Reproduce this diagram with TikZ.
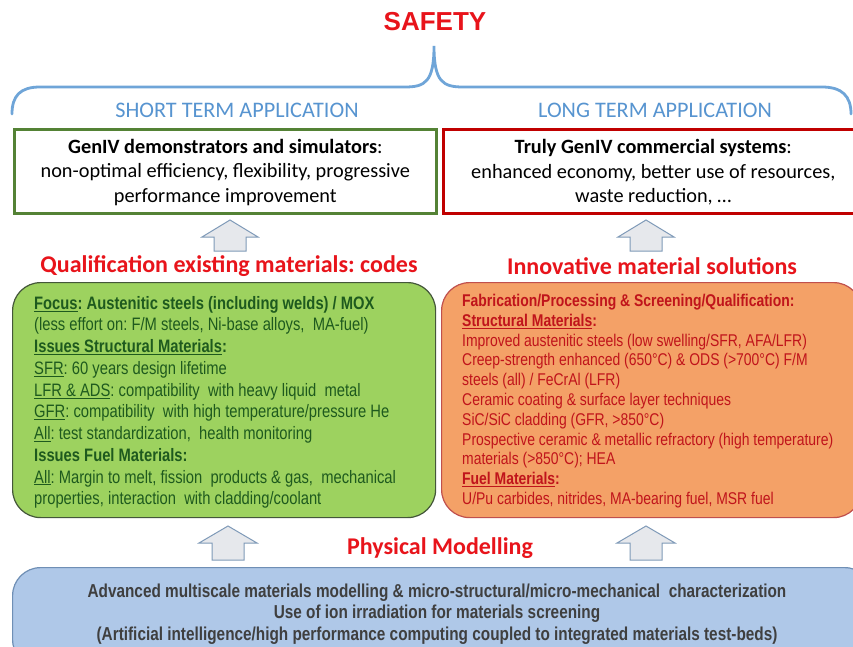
\documentclass[tikz,border=0pt]{standalone}
\usepackage{fontspec}
\setmainfont{Carlito}
\newfontfamily\narrowf[FakeStretch=0.82]{Liberation Sans}
\newfontfamily\arialf{Liberation Sans}
\usetikzlibrary{calc}
\definecolor{safred}{HTML}{E8141B}
\definecolor{braceblue}{HTML}{6FA5D8}
\definecolor{titleblue}{HTML}{5794D0}
\definecolor{gborder}{HTML}{548235}
\definecolor{rborder}{HTML}{C00000}
\definecolor{arrfill}{HTML}{E6E8EC}
\definecolor{arredge}{HTML}{7F9AB8}
\definecolor{gfill}{HTML}{9DD25F}
\definecolor{gedge}{HTML}{44573A}
\definecolor{gtext}{HTML}{1E5A1E}
\definecolor{ofill}{HTML}{F4A167}
\definecolor{oedge}{HTML}{C0504D}
\definecolor{otext}{HTML}{C0141B}
\definecolor{bfill}{HTML}{AFC8E8}
\definecolor{bedge}{HTML}{6F8FB5}
\definecolor{btext}{HTML}{3F3F3F}
\frenchspacing
\begin{document}
\begin{tikzpicture}[x=1pt,y=-1pt,
  topbox/.style={draw=#1,line width=2.6pt,minimum width=420pt,minimum height=84pt,inner sep=0pt,anchor=north west},
  heading/.style={text=safred,font=\fontsize{24}{28}\selectfont\bfseries,inner sep=0pt},
  termtitle/.style={text=titleblue,font=\fontsize{22.2}{26}\selectfont,inner sep=0pt},
  toptext/.style={align=center,font=\fontsize{20.3}{24.5}\selectfont,inner sep=0pt},
  blockarrow/.style={fill=arrfill,draw=arredge,line width=1pt,line join=miter},
  bigbox/.style={rounded corners=28pt,line width=1.2pt,anchor=north west,inner sep=0pt},
]
\useasboundingbox (0,0) rectangle (853,647);
\fill[white] (0,0) rectangle (853,647);

% SAFETY and brace
\node[text=safred,font=\arialf\bfseries\fontsize{26}{30}\selectfont,inner sep=0pt] (safety) at (435,22) {SAFETY};
\coordinate (tip) at (434,46);
\draw[braceblue,line width=2.8pt,line cap=round]
  (12,114) .. controls (12,96) and (20,87) .. (40,87) -- (405,87)
  .. controls (425,87) and (434,82) .. (tip)
  .. controls (434,82) and (443,87) .. (463,87) -- (822,87)
  .. controls (842,87) and (851,96) .. (851,114);

\node[termtitle] (short) at (237,110) {SHORT TERM APPLICATION};
\node[termtitle] (long) at (655,110) {LONG TERM APPLICATION};

% top boxes
\node[topbox=gborder,minimum width=422pt] (demo) at (13,128) {};
\node[topbox=rborder,minimum width=420pt] (truly) at (442,128) {};
\node[toptext] (demotxt) at ($(demo.center)+(0,1)$) {\textbf{GenIV demonstrators and simulators}:\\non-optimal efficiency, flexibility, progressive\\performance improvement};
\node[toptext] (trulytxt) at ($(truly.center)+(0,1)$) {\textbf{Truly GenIV commercial systems}:\\enhanced economy, better use of resources,\\waste reduction, \dots};

% headings
\node[heading] (qual) at (229,266) {Qualification existing materials: codes};
\node[heading] (innov) at (652,266) {Innovative material solutions};

% block arrows up to the top boxes
\foreach \cx/\nm in {230/a1,646/a2}{
  \draw[blockarrow] (\cx-16,251) -- (\cx-16,237) -- (\cx-28,237) -- (\cx,220) -- (\cx+28,237) -- (\cx+16,237) -- (\cx+16,251) -- cycle;
}

% green box
\node[bigbox,fill=gfill,draw=gedge,minimum width=423pt,minimum height=235pt] (green) at (12,282) {};
\node[anchor=north west,inner sep=0pt,text=gtext,align=left,
  font=\narrowf\fontsize{18}{21.75}\selectfont] (greentxt) at ($(green.north west)+(22,14)$)
{\textbf{\underline{Focus}: Austenitic steels (including welds) / MOX}\\
(less effort on: F/M steels, Ni-base alloys,\ \ MA-fuel)\\
\textbf{\underline{Issues Structural Materials}:}\\
\underline{SFR}: 60 years design lifetime\\
\underline{LFR \& ADS}: compatibility\ \ with heavy liquid\ \ metal\\
\underline{GFR}: compatibility\ \ with high temperature/pressure He\\
\underline{All}: test standardization,\ \ health monitoring\\
\textbf{Issues Fuel Materials:}\\
\underline{All}: Margin to melt, fission\ \ products \& gas,\ \ mechanical\\
properties, interaction\ \ with cladding/coolant};

% orange box
\node[bigbox,fill=ofill,draw=oedge,minimum width=420pt,minimum height=235pt] (orange) at (441,282) {};
\node[anchor=north west,inner sep=0pt,text=otext,align=left,
  font=\narrowf\fontsize{17}{19.8}\selectfont] (orangetxt) at ($(orange.north west)+(21,12)$)
{\textbf{Fabrication/Processing \& Screening/Qualification:}\\
\textbf{\underline{Structural Materials}:}\\
Improved austenitic steels (low swelling/SFR, AFA/LFR)\\
Creep-strength enhanced (650°C) \& ODS (>700°C) F/M\\
steels (all) / FeCrAl (LFR)\\
Ceramic coating \& surface layer techniques\\
SiC/SiC cladding (GFR, >850°C)\\
Prospective ceramic \& metallic refractory (high temperature)\\
materials (>850°C); HEA\\
\textbf{\underline{Fuel Materials}:}\\
U/Pu carbides, nitrides, MA-bearing fuel, MSR fuel};

% lower arrows
\foreach \cx/\nm in {228/b1,646/b2}{
  \draw[blockarrow] (\cx-16,560) -- (\cx-16,543) -- (\cx-29,543) -- (\cx,526) -- (\cx+29,543) -- (\cx+16,543) -- (\cx+16,560) -- cycle;
}
\node[heading] (phys) at (440,548) {Physical Modelling};

% blue box
\node[bigbox,fill=bfill,draw=bedge,minimum width=860pt,minimum height=100pt] (blue) at (12,567) {};
\node[inner sep=0pt,text=btext,align=center,
  font=\narrowf\bfseries\fontsize{18.7}{21.7}\selectfont] (bluetxt) at (437,614)
{Advanced multiscale materials modelling \& micro-structural/micro-mechanical\ \ characterization\\
Use of ion irradiation for materials screening\\
(Artificial intelligence/high performance computing coupled to integrated materials test-beds)};
\end{tikzpicture}
\end{document}
